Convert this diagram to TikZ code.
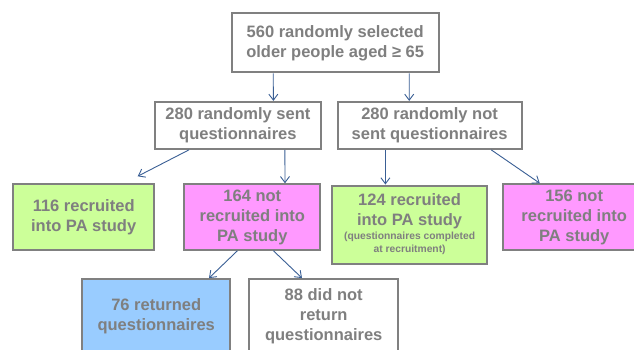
\documentclass[tikz,border=0pt]{standalone}
\usepackage{fontspec}
\setmainfont{Liberation Sans}
\usetikzlibrary{arrows.meta}
\definecolor{boxgray}{HTML}{808080}
\definecolor{txtgray}{HTML}{7F7F7F}
\definecolor{arrowblue}{HTML}{3A5F95}
\definecolor{recgreen}{HTML}{CCFF99}
\definecolor{notpink}{HTML}{FF99FF}
\definecolor{retblue}{HTML}{99CCFF}
\newcommand{\notefont}{\fontsize{10.3}{13}\selectfont}

\begin{document}
\begin{tikzpicture}[x=1pt, y=-1pt,
  box/.style={rectangle, draw=boxgray, line width=2pt, fill=white, align=center,
    text=txtgray, inner sep=0pt,
    font=\fontsize{16.5}{20}\selectfont\bfseries},
  recruited/.style={box, fill=recgreen},
  notrec/.style={box, fill=notpink},
  returned/.style={box, fill=retblue},
  arrow/.style={-{Straight Barb[length=6pt, width=9pt]}, draw=arrowblue, line width=0.9pt}
]
\clip (0,0) rectangle (634,350);
\fill[white] (0,0) rectangle (634,350);

\node[box, minimum width=207pt, minimum height=59pt] (all) at (335.2,42.8)
  {560 randomly selected\\older people aged ≥ 65};

\node[box, minimum width=166pt, minimum height=47pt] (sent) at (237.9,125.4)
  {280 randomly sent\\questionnaires};
\node[box, minimum width=184pt, minimum height=47pt] (notsent) at (429.6,125.4)
  {280 randomly not\\sent questionnaires};

\node[recruited, minimum width=141pt, minimum height=65.5pt] (rec1) at (83.7,217)
  {116 recruited\\into PA study};
\node[notrec, minimum width=136pt, minimum height=65.5pt] (norec1) at (252.3,217)
  {164 not\\recruited into\\PA study};
\node[recruited, minimum width=155pt, minimum height=78pt] (rec2) at (409.6,224.5)
  {124 recruited\\into PA study\\[-6pt]\notefont(questionnaires completed\\[-7pt]\notefont at recruitment)};
\node[notrec, minimum width=142pt, minimum height=65.5pt] (norec2) at (574.2,217)
  {156 not\\recruited into\\PA study};

\node[returned, minimum width=148.5pt, minimum height=75pt] (ret) at (156.2,316.6)
  {76 returned\\questionnaires};
\node[box, minimum width=148.5pt, minimum height=75pt] (noret) at (323.7,316.6)
  {88 did not\\return\\questionnaires};

\draw[arrow] ([xshift=-62pt]all.south) -- ([xshift=35.5pt]sent.north);
\draw[arrow] ([xshift=74pt]all.south) -- ([xshift=-20.4pt]notsent.north);

\draw[arrow] ([xshift=-49pt]sent.south) -- ([xshift=54pt, yshift=7pt]rec1.north);
\draw[arrow] ([xshift=47pt]sent.south) -- ([xshift=32.7pt]norec1.north);
\draw[arrow] ([xshift=-44.2pt]notsent.south) -- ([xshift=-24.2pt]rec2.north);
\draw[arrow] ([xshift=61.7pt]notsent.south) -- ([xshift=-34.4pt]norec2.north);

\draw[arrow] ([xshift=-14.9pt]norec1.south) -- ([xshift=52.8pt]ret.north);
\draw[arrow] ([xshift=21.1pt]norec1.south) -- ([xshift=-21.7pt]noret.north);

\end{tikzpicture}
\end{document}
